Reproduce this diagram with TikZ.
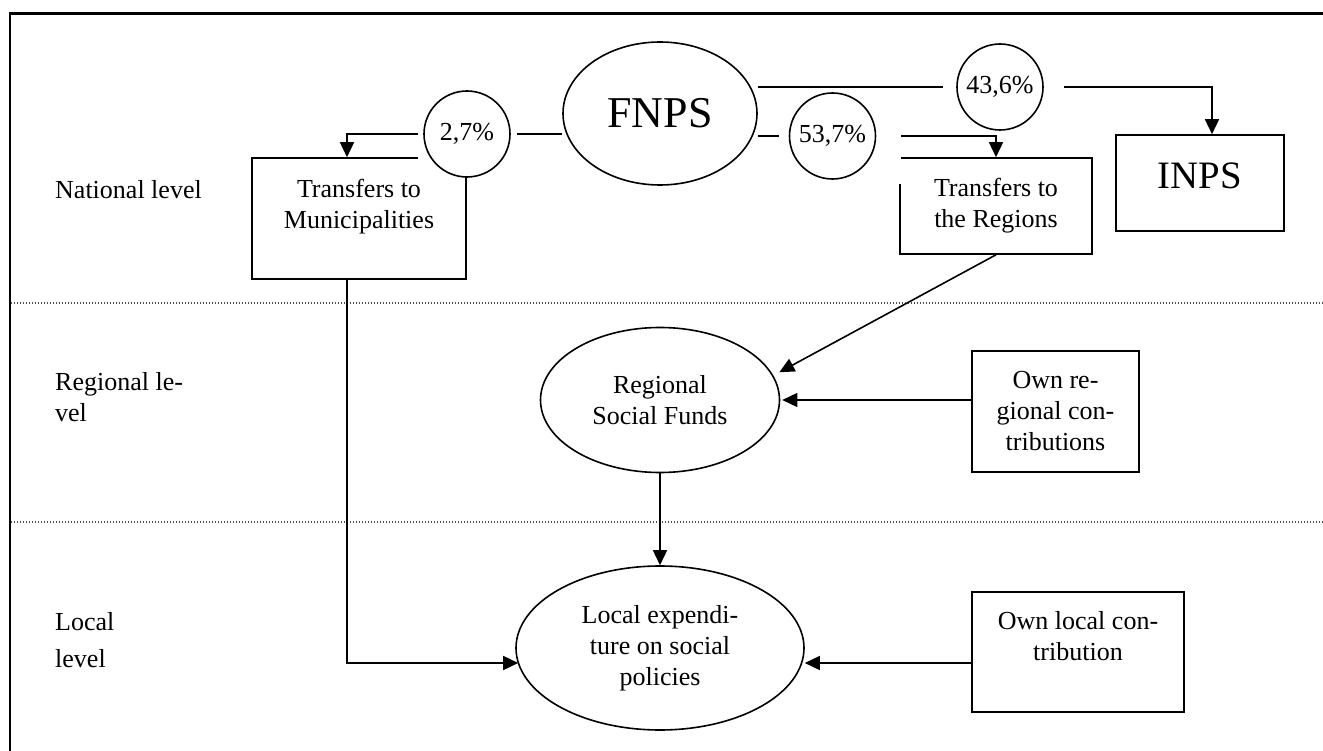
\documentclass[tikz,border=0pt]{standalone}
\usepackage{fontspec}
\setmainfont{Liberation Serif}
\usetikzlibrary{arrows.meta,shapes.geometric,calc}
\pgfdeclarelayer{background}
\pgfsetlayers{background,main}
\newcommand\dgbody{\fontsize{26}{31}\selectfont}
\begin{document}
\begin{tikzpicture}[x=1pt,y=-1pt,
 shp/.style={draw, line width=1.6pt, fill=white, inner sep=0pt},
 boxnode/.style={shp, rectangle, align=center, font=\dgbody},
 ovalnode/.style={shp, ellipse, align=center, font=\dgbody},
 pctnode/.style={shp, circle, minimum size=86pt, font=\dgbody},
 masknode/.style={fill=white, rectangle, inner sep=0pt},
 txtnode/.style={inner sep=0pt, align=center, font=\dgbody},
 lvl/.style={inner sep=0pt, align=left, font=\dgbody, anchor=north west},
 conn/.style={line width=1.6pt},
 arr/.style={conn, -{Triangle[length=15pt,width=14pt]}},
 sepline/.style={line width=1.3pt, black!70, dash pattern=on 1.3pt off 1.7pt}
]
\useasboundingbox (0,0) rectangle (1323,751);

% frame
\draw[line width=3pt] (9,14) -- (1323,14);
\draw[line width=2pt] (10,13) -- (10,751);

% level labels
\node[lvl, anchor=base west] (natl) at (55,199) {National level};
\node[lvl] (regl) at (55,372.2) {Regional le-\\vel};
\node[lvl, font=\fontsize{26}{37}\selectfont] (locl) at (55,612.2) {Local\\level};

% main shapes
\node[shp, ellipse, minimum width=194pt, minimum height=143pt,
      font=\fontsize{44}{50}\selectfont] (fnps) at (660,113.5) {FNPS\hspace{26pt}};
\node[boxnode, minimum width=214pt, minimum height=121pt] (mun) at (359,218.5) {};
\node[txtnode, anchor=north] (muntxt) at ([yshift=-22pt]mun.north) {Transfers to\\Municipalities};
\node[boxnode, minimum width=192pt, minimum height=96pt] (reg) at (996,206) {Transfers to\\the Regions};
\node[shp, rectangle, minimum width=168pt, minimum height=96pt,
      font=\fontsize{38.8}{44}\selectfont, text depth=14pt] (inps) at (1200,183) {INPS};
\node[ovalnode, minimum width=239pt, minimum height=145pt] (rsf) at (660,400) {Regional\\Social Funds};
\node[boxnode, minimum width=167pt, minimum height=121pt] (orc) at (1055.5,411.5) {Own re-\\gional con-\\tributions};
\node[ovalnode, minimum width=288pt, minimum height=164pt] (loc) at (660,648) {Local expendi-\\ture on social\\policies};
\node[boxnode, minimum width=212pt, minimum height=120pt] (olc) at (1078,652) {};
\node[txtnode, anchor=north] (olctxt) at ([yshift=-20pt]olc.north) {Own local con-\\tribution};

% share circles with white surround
\node[masknode, minimum width=99pt, minimum height=90pt] (m27) at (467.5,132) {};
\node[pctnode] (c27) at (467,134) {2,7\%};
\node[masknode, minimum width=122pt, minimum height=94pt] (m537) at (840,137) {};
\node[pctnode] (c537) at (832.5,136) {53,7\%};
\node[masknode, minimum width=121pt, minimum height=90pt] (m436) at (1003.5,87) {};
\node[pctnode] (c436) at (1000,87) {43,6\%};

\begin{pgfonlayer}{background}
\fill[white] (0,0) rectangle (1323,751);
\draw[sepline] (11,303) -- (1323,303);
\draw[sepline] (11,522) -- (1323,522);
\draw[arr] (fnps.west |- c27.center) -| ([xshift=-12pt]mun.north);
\draw[arr] (fnps.east |- c436.center) -| ([xshift=12pt]inps.north);
\draw[arr] (fnps.east |- c537.center) -| (reg.north);
\draw[arr] (reg.south) -- ([xshift=8pt]rsf.14);
\draw[arr] (orc.west |- rsf.east) -- ([xshift=2pt]rsf.east);
\draw[arr] (rsf.south) -- (loc.north);
\draw[arr] ([xshift=-12pt]mun.south) |- ([xshift=3pt,yshift=-15pt]loc.west);
\draw[arr] ([yshift=-11pt]olc.west) -- ([yshift=-15pt]loc.east);
\end{pgfonlayer}
\end{tikzpicture}
\end{document}
